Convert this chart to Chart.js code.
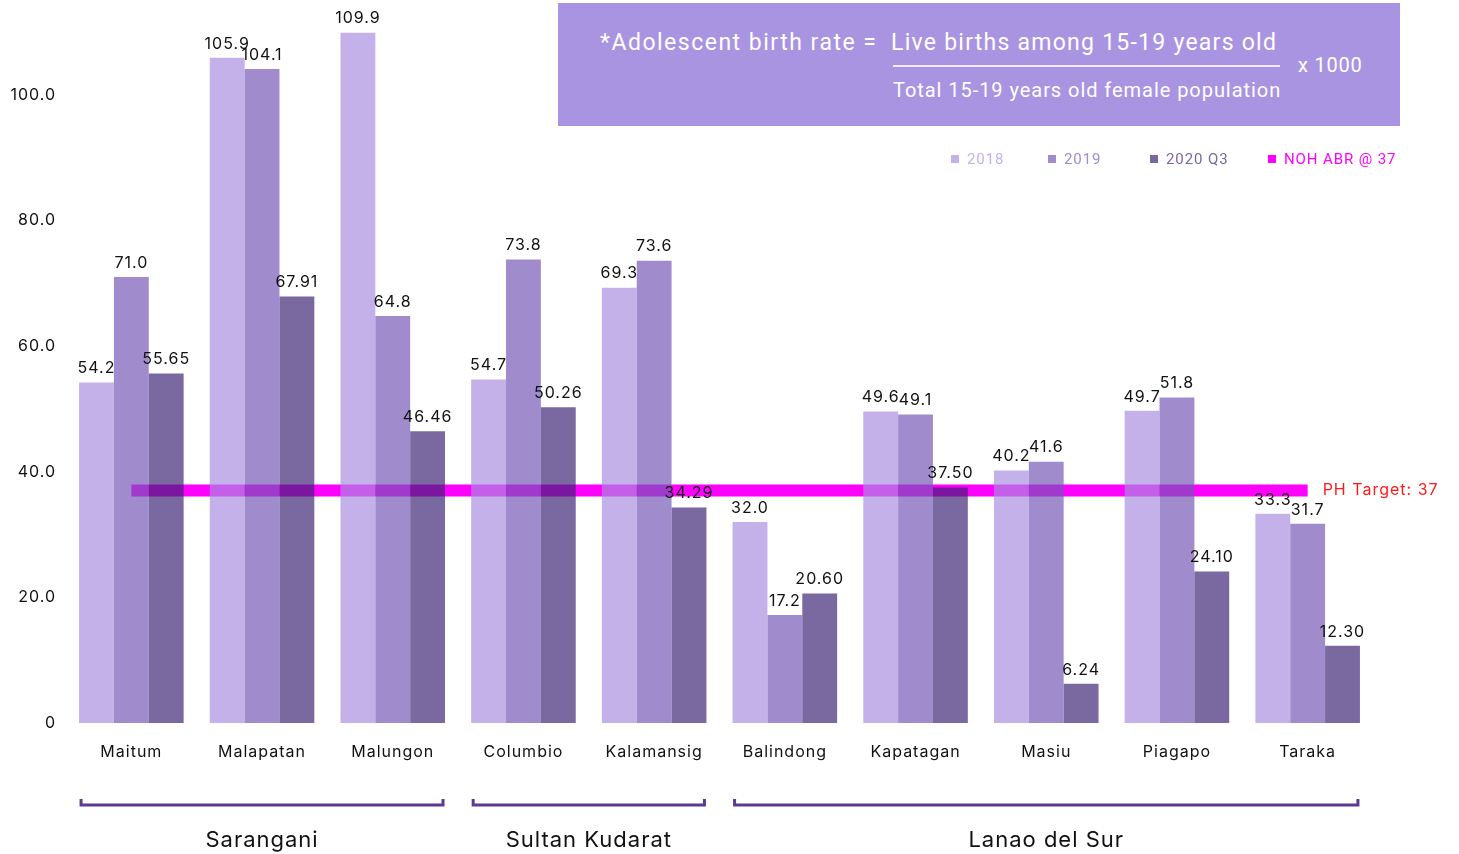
<!DOCTYPE html>
<html>
<head>
<meta charset="utf-8">
<script src="https://cdn.jsdelivr.net/npm/chart.js@4"></script>
<style>
  body { margin: 0; background: #fff; }
  #wrap { position: relative; width: 1459px; height: 854px; overflow: hidden; font-family: Inter, "Noto Sans", sans-serif; }
  #chart { position: absolute; left: 0; top: 0; }
  #formula { position: absolute; left: 558px; top: 3px; width: 842px; height: 123px; background: #a994e2; color: #fff; font-family: Roboto, sans-serif; }
  #formula span { position: absolute; white-space: nowrap; line-height: 1; }
  #formula .rule { position: absolute; left: 335px; top: 62px; width: 387px; height: 2px; background: rgba(255,255,255,0.8); }
  #legend { position: absolute; top: 150px; left: 0; font-size: 15px; font-family: Roboto, sans-serif; letter-spacing: 0.9px; }
  #legend div { position: absolute; white-space: nowrap; line-height: 18px; }
  #legend i { display: inline-block; width: 8px; height: 8px; margin-right: 8px; vertical-align: 1px; }
</style>
</head>
<body>
<div id="wrap">
  <canvas id="chart" width="1459" height="854"></canvas>
  <div id="formula">
    <span style="left:42px;top:28px;font-size:23px;letter-spacing:1.5px;">*Adolescent birth rate =</span>
    <span style="left:333px;top:28px;font-size:23px;letter-spacing:1.25px;">Live births among 15-19 years old</span>
    <div class="rule"></div>
    <span style="left:740px;top:52px;font-size:20px;letter-spacing:0.8px;">x 1000</span>
    <span style="left:335px;top:77px;font-size:20px;letter-spacing:0.95px;">Total 15-19 years old female population</span>
  </div>
  <div id="legend"></div>
</div>
<script>
document.addEventListener('DOMContentLoaded', () => {

    // DATA
    const municipalities = ['Maitum', 'Malapatan', 'Malungon', 'Columbio', 'Kalamansig', 'Balindong', 'Kapatagan', 'Masiu', 'Piagapo', 'Taraka'];
    const abr2018 = [54.2, 105.9, 109.9, 54.7, 69.3, 32.0, 49.6, 40.2, 49.7, 33.3];
    const abr2019 = [71.0, 104.1, 64.8, 73.8, 73.6, 17.2, 49.1, 41.6, 51.8, 31.7];
    const abr2020q3 = [55.65, 67.91, 46.46, 50.26, 34.29, 20.60, 37.50, 6.24, 24.10, 12.30];
    const phTarget = 37;
    const yTicks = [0, 20, 40, 60, 80, 100];
    // provinces: name, first and last municipality index
    const provinces = [
        { name: 'Sarangani', from: 0, to: 2 },
        { name: 'Sultan Kudarat', from: 3, to: 4 },
        { name: 'Lanao del Sur', from: 5, to: 9 }
    ];

    const colors = {
        y2018: 'rgba(168, 140, 224, 0.68)',
        y2019: 'rgba(115, 85, 181, 0.68)',
        y2020: 'rgba(59, 32, 115, 0.68)',
        target: '#ff00ff'
    };

    // HTML legend (floats under the formula box)
    const legendItems = [
        { text: '2018', color: '#c4b1ea', x: 951 },
        { text: '2019', color: '#a08ccc', x: 1048 },
        { text: '2020 Q3', color: '#7a68a0', x: 1150 },
        { text: 'NOH ABR @ 37', color: '#ff00ff', x: 1268 }
    ];
    const legendEl = document.getElementById('legend');
    legendItems.forEach(item => {
        const d = document.createElement('div');
        d.style.left = item.x + 'px';
        d.style.color = item.color;
        d.innerHTML = `<i style="background:${item.color}"></i>${item.text}`;
        legendEl.appendChild(d);
    });

    // wider tracking on all canvas text, like the original artwork
    const tracking = {
        id: 'tracking',
        beforeLayout(chart) { chart.ctx.letterSpacing = '1px'; },
        beforeDraw(chart) { chart.ctx.letterSpacing = '1px'; }
    };

    // value labels, target label, province brackets
    const annotate = {
        id: 'annotate',
        afterDatasetsDraw(chart) {
            const ctx = chart.ctx;
            const y = chart.scales.y;
            ctx.save();
            ctx.font = '16px Inter';
            ctx.fillStyle = '#111';
            ctx.textAlign = 'center';
            ctx.textBaseline = 'bottom';
            [0, 1, 2].forEach(di => {
                const meta = chart.getDatasetMeta(di);
                const vals = chart.data.datasets[di].data;
                meta.data.forEach((bar, j) => {
                    const txt = di === 2 ? vals[j].toFixed(2) : vals[j].toFixed(1);
                    ctx.fillText(txt, bar.x, bar.y - 6);
                });
            });

            // PH target text
            const lineMeta = chart.getDatasetMeta(3);
            const last = lineMeta.data[lineMeta.data.length - 1];
            ctx.fillStyle = '#ff1a1a';
            ctx.textAlign = 'left';
            ctx.textBaseline = 'middle';
            ctx.fillText('PH Target: ' + phTarget, last.x + 15, y.getPixelForValue(phTarget));

            // province brackets
            const m0 = chart.getDatasetMeta(0);
            const m2 = chart.getDatasetMeta(2);
            const by = 805;
            ctx.strokeStyle = '#5b3a8f';
            ctx.lineWidth = 3;
            provinces.forEach(p => {
                const b0 = m0.data[p.from];
                const b1 = m2.data[p.to];
                const left = b0.x - b0.width / 2 + 2;
                const right = b1.x + b1.width / 2 - 2;
                ctx.beginPath();
                ctx.moveTo(left, by - 6);
                ctx.lineTo(left, by);
                ctx.lineTo(right, by);
                ctx.lineTo(right, by - 6);
                ctx.stroke();
                ctx.fillStyle = '#111';
                ctx.font = '22px Inter';
                ctx.textAlign = 'center';
                ctx.fillText(p.name, (left + right) / 2, 840);
            });
            ctx.restore();
        }
    };

    new Chart(document.getElementById('chart'), {
        type: 'bar',
        data: {
            labels: municipalities,
            datasets: [
                { label: '2018', data: abr2018, backgroundColor: colors.y2018, order: 1 },
                { label: '2019', data: abr2019, backgroundColor: colors.y2019, order: 1 },
                { label: '2020 Q3', data: abr2020q3, backgroundColor: colors.y2020, order: 1 },
                {
                    type: 'line',
                    label: 'NOH ABR @ 37',
                    data: municipalities.map(() => phTarget),
                    borderColor: colors.target,
                    borderWidth: 12,
                    pointRadius: 0,
                    order: 10
                }
            ]
        },
        options: {
            responsive: false,
            animation: false,
            categoryPercentage: 0.8,
            barPercentage: 1.0,
            layout: { padding: { top: 32, right: 86, left: 0, bottom: 0 } },
            plugins: {
                legend: { display: false },
                tooltip: { enabled: false }
            },
            scales: {
                x: {
                    grid: { display: false },
                    border: { display: false },
                    ticks: { color: '#111', font: { family: 'Inter', size: 16 }, padding: 12 },
                    afterFit: (scale) => { scale.height = 131; }
                },
                y: {
                    min: 0,
                    max: 110,
                    grid: { display: false },
                    border: { display: false },
                    afterFit: (scale) => { scale.width = 66; },
                    afterBuildTicks: (scale) => { scale.ticks = yTicks.map(v => ({ value: v })); },
                    ticks: {
                        color: '#111',
                        font: { family: 'Inter', size: 16 },
                        padding: 2,
                        callback: (v) => v === 0 ? '0' : v.toFixed(1)
                    }
                }
            }
        },
        plugins: [tracking, annotate]
    });
});
</script>
</body>
</html>
